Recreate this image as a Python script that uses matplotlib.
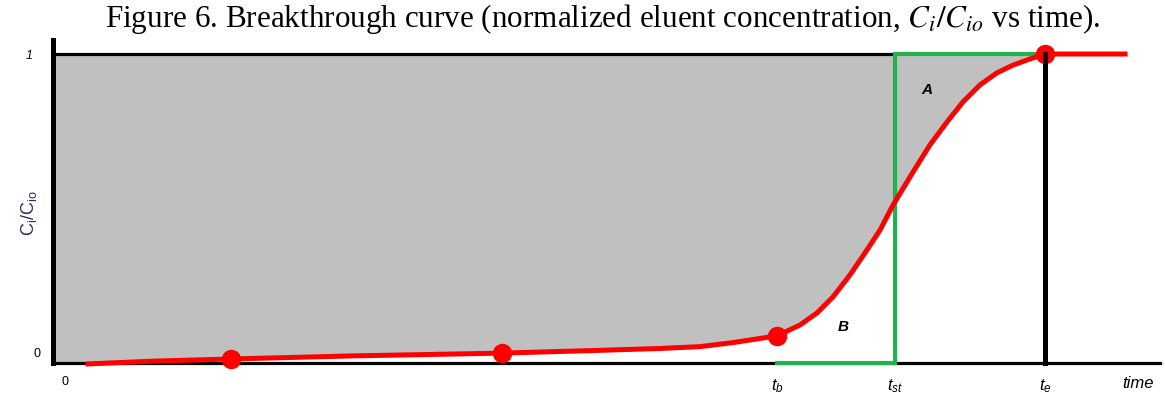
import matplotlib.pyplot as plt
import numpy as np

plt.rcParams['font.family'] = ['Liberation Sans', 'DejaVu Sans']

# breakthrough curve (time in arbitrary units, C/C0)
t_curve = [35, 100, 178, 300, 449, 547, 607, 647, 680, 724, 747, 764, 780,
           797, 814, 827, 840, 860, 877, 894, 910, 927, 944, 960, 977, 992,
           1072]
c_curve = [-0.003, 0.006, 0.013, 0.023, 0.032, 0.041, 0.047, 0.053, 0.066,
           0.088, 0.123, 0.162, 0.214, 0.285, 0.366, 0.430, 0.511, 0.618,
           0.706, 0.780, 0.845, 0.900, 0.939, 0.964, 0.984, 1.0, 1.0]
t_marks = [178, 449, 724, 992]
c_marks = [0.013, 0.032, 0.088, 1.0]

t_b = 724
t_st = 842
t_e = 992
t_end = 1107

fig = plt.figure(figsize=(11.65, 3.97), dpi=100)
ax = fig.add_axes([53 / 1165, 34 / 397, t_end / 1165, 323 / 397])
ax.set_xlim(0, t_end)
ax.set_ylim(0, 323 / 309)

# grey area above the curve up to t_e
tf = np.array([0] + t_curve)
cf = np.clip(np.array([0] + c_curve), 0, None)
m = tf <= t_e
ax.fill_between(tf[m], cf[m], 1, color='#c0c0c0', lw=0, zorder=1)

ax.plot([0, t_st], [1, 1], color='black', lw=2.3, zorder=2, solid_capstyle='butt')
ax.plot(t_curve, c_curve, color='#ff0000', lw=3.6, zorder=4, clip_on=False,
        solid_joinstyle='round')
ax.plot(t_marks, c_marks, 'o', color='#ff0000', ms=13, zorder=5, clip_on=False)

green = '#22b14c'
ax.plot([t_b, t_st, t_st, 987], [0, 0, 1, 1], color=green, lw=3, zorder=3,
        solid_joinstyle='miter', clip_on=False)
ax.plot([t_e, t_e], [0, 1], color='black', lw=3.6, zorder=6, clip_on=False)

for s in ['top', 'right']:
    ax.spines[s].set_visible(False)
ax.spines['left'].set_linewidth(3.6)
ax.spines['bottom'].set_linewidth(2.3)
ax.spines['bottom'].set_zorder(2)
ax.set_xticks([])
ax.set_yticks([])

tr = ax.get_yaxis_transform()
ax.text(-0.018, 0.995, '1', transform=tr, ha='right', va='center',
        fontsize=9, fontstyle='italic')
ax.text(-0.011, 0.03, '0', transform=tr, ha='right', va='center', fontsize=9)
ax.text(12, -0.06, '0', ha='center', va='center', fontsize=9, clip_on=False)
ax.text(-0.013, 0.465, r'$\mathregular{C_i/C_{io}}$', transform=ax.transAxes,
        rotation=90, ha='right', va='center', fontsize=13, color='#2b2b66')

lab_y = -0.075
ax.text(t_b, lab_y, r'$\mathregular{t_b}$', ha='center', va='center',
        fontsize=12, fontstyle='italic')
ax.text(t_st, lab_y, r'$\mathregular{t_{st}}$', ha='center', va='center',
        fontsize=12, fontstyle='italic')
ax.text(t_e, lab_y, r'$\mathregular{t_e}$', ha='center', va='center',
        fontsize=12, fontstyle='italic')
ax.text(1085, -0.065, 'time', ha='center', va='center', fontsize=12,
        fontstyle='italic', clip_on=False)

ax.text(874, 0.885, 'A', ha='center', va='center', fontsize=11,
        fontweight='bold', fontstyle='italic')
ax.text(790, 0.115, 'B', ha='center', va='center', fontsize=11,
        fontweight='bold', fontstyle='italic')

fig.text(0.5176, 0.953, r'Figure 6. Breakthrough curve (normalized eluent concentration, '
         r'$C_i/C_{io}$ vs time).', ha='center', va='center', fontsize=22.4,
         family='Liberation Serif', math_fontfamily='stix')

fig.savefig('out.png', dpi=100)
